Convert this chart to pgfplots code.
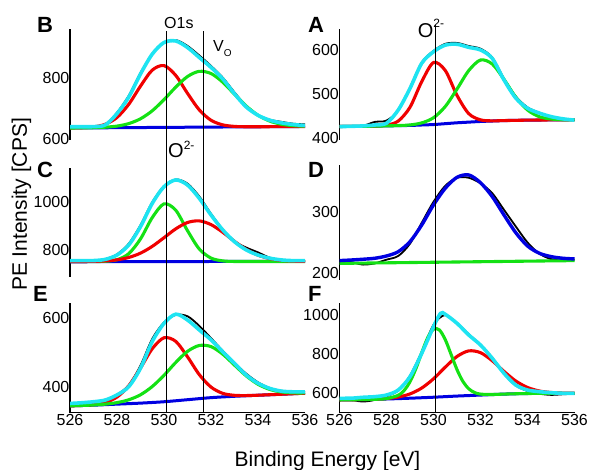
\documentclass[border=0pt]{standalone}
\usepackage{fontspec}
\setmainfont{Liberation Sans}
\usepackage{pgfplots}
\pgfplotsset{compat=1.18}
\definecolor{fitcyan}{RGB}{30,228,242}
\definecolor{pkred}{RGB}{240,0,0}
\definecolor{pkgreen}{RGB}{20,225,20}
\definecolor{bgblue}{RGB}{0,0,225}
\pgfplotsset{
  panel/.style={
    scale only axis, width=235pt, xmin=526, xmax=536,
    axis lines=left,
    axis line style={-, line width=1.1pt},
    major tick length=0pt,
    ticklabel style={font=\fontsize{16}{16}\selectfont},
    yticklabel style={inner sep=0.5pt},
    xticklabel style={inner sep=1.5pt},
    /pgf/number format/assume math mode=true,
    /pgf/number format/1000 sep={},
    no markers, anchor=south west,
  },
  toprow/.style={xtick=\empty, x axis line style={draw=none}},
  bottomrow/.style={xtick={526,528,530,532,534,536}},
  dat/.style={black, line width=1.8pt, smooth},
  fit/.style={fitcyan, line width=3.6pt, smooth},
  rd/.style={pkred, line width=3.1pt, smooth},
  gr/.style={pkgreen, line width=3.1pt, smooth},
  bl/.style={bgblue, line width=3pt, smooth},
}
\begin{document}
\begin{tikzpicture}
\useasboundingbox (0pt,0pt) rectangle (591pt,470pt);

% B
\begin{axis}[panel, toprow, at={(70pt,330pt)}, height=111pt, ymin=597, ymax=958, ytick={600,800}]
\addplot[dat] coordinates {(526,641)(526.5,640)(527,640)(527.5,646)(528,686)(528.5,741)(529,815)(529.5,877)(530,913)(530.5,922)(531,903)(531.5,872)(532,838)(532.5,800)(533,752)(533.5,707)(534,678)(534.5,663)(535,656)(535.5,650)(536,648)};
\addplot[bl] coordinates {(526,636)(531,638.5)(536,641)};
\addplot[rd] coordinates {(526,636.1)(526.5,636.9)(527,639.5)(527.5,648.1)(528,670.2)(528.5,713.1)(529,772.2)(529.5,824.2)(530,839)(530.5,807)(531,748.8)(531.5,695)(532,661.2)(532.5,646.2)(533,641.2)(533.5,640.1)(534,640)(535,640.5)(536,641)};
\addplot[gr] coordinates {(526,636)(526.5,636.4)(527,637)(527.5,638.6)(528,642.2)(528.5,650.3)(529,666)(529.5,692)(530,728.2)(530.5,768.9)(531,803.4)(531.5,820.3)(532,813.2)(532.5,785)(533,745.8)(533.5,707.4)(534,677.5)(534.5,658.4)(535,648.1)(535.5,643.6)(536,641.9)};
\addplot[fit] coordinates {(526,640)(526.5,640)(527,640.5)(527.5,646)(528,682.8)(528.5,736.5)(529,811.8)(529.5,876.3)(530,914)(530.5,919)(531,897.8)(531.5,865.5)(532,833.3)(532.5,795.7)(533,747.3)(533.5,704.3)(534,677.4)(534.5,661.3)(535,652.7)(535.5,647.3)(536,644)};
\coordinate (L1t) at (axis cs:530.1,950);
\coordinate (L2t) at (axis cs:531.7,950);
\end{axis}

% A
\begin{axis}[panel, toprow, at={(339.5pt,330pt)}, height=111pt, ymin=396, ymax=647.6, ytick={400,500,600}]
\addplot[dat] coordinates {(526,425)(526.5,426)(527,428)(527.5,437)(528,440)(528.5,463)(529,515)(529.5,572)(530,598)(530.5,614)(531,616)(531.5,609)(532,603)(532.5,583)(533,535)(533.5,495)(534,470)(534.5,458)(535,449)(535.5,444)(536,441)};
\addplot[bl] coordinates {(526,427)(527,427)(528,428)(529,429)(529.5,430)(530,431)(530.5,433)(531,435)(531.5,436.5)(532,438)(532.5,439)(533,440)(534,441)(535,441.5)(536,442)};
\addplot[rd] coordinates {(526,427)(527,427)(527.5,427.6)(528,429.6)(528.5,438.9)(529,470.3)(529.5,528.4)(530,571.6)(530.5,553.6)(531,497.1)(531.5,455.7)(532,441.6)(532.5,439.4)(533,440)(534,441)(535,441.5)(536,442)};
\addplot[gr] coordinates {(526,427)(527,427)(528,428)(528.5,428.7)(529,430.1)(529.5,434.8)(530,446.4)(530.5,471.9)(531,511.4)(531.5,553.4)(532,577.3)(532.5,568.2)(533,533.4)(533.5,493)(534,464)(534.5,448.8)(535,443.6)(535.5,441.9)(536,442.1)};
\addplot[fit] coordinates {(526,426.3)(526.5,427)(527,427.9)(527.5,430)(528,434)(528.5,464)(529,513)(529.5,570)(530,596)(530.5,611)(531,613)(531.5,606)(532,600)(532.5,581)(533,532)(533.5,491)(534,468)(534.5,457)(535,449)(535.5,444)(536,441)};
\coordinate (R1t) at (axis cs:530.1,657);
\end{axis}

% C
\begin{axis}[panel, toprow, at={(70pt,193pt)}, height=109pt, ymin=688, ymax=1139.5, ytick={800,1000}]
\addplot[dat] coordinates {(526,754)(526.5,752)(527,755)(527.5,762)(528,782)(528.5,826)(529,903)(529.5,998)(530,1064)(530.5,1092)(531,1075)(531.5,1022)(532,950)(532.5,885)(533,835)(533.5,810)(534,790)(534.5,768)(535,757)(535.5,754)(536,754)};
\addplot[bl] coordinates {(526,751)(536,753)};
\addplot[gr] coordinates {(526,752)(527,752.1)(527.5,753.2)(528,759.7)(528.5,784.5)(529,845.7)(529.5,934)(530,991)(530.5,964.6)(531,880)(531.5,804.1)(532,766.4)(532.5,754.7)(533,752.3)(534,752)(536,752)};
\addplot[rd] coordinates {(526,752)(526.5,752.2)(527,752.8)(527.5,754.6)(528,759.1)(528.5,768.8)(529,786.8)(529.5,814.8)(530,850.7)(530.5,887.4)(531,913.7)(531.5,920.5)(532,905.1)(532.5,873.3)(533,835.7)(533.5,802.4)(534,778.4)(534.5,764.1)(535,756.8)(535.5,753.7)(536,752.5)};
\addplot[fit] coordinates {(526,755.7)(526.5,755.7)(527,756)(527.5,761)(528,779)(528.5,820.7)(529,896.6)(529.5,993)(530,1062)(530.5,1090)(531,1069)(531.5,1014)(532,945)(532.5,883)(533,834)(533.5,800)(534,779)(534.5,766)(535,758.6)(535.5,755.7)(536,755.7)};
\end{axis}

% D
\begin{axis}[panel, toprow, at={(339.5pt,190pt)}, height=115pt, ymin=189, ymax=375.8, ytick={200,300}]
\addplot[dat] coordinates {(526,221)(526.5,218)(527,214)(527.5,216)(528,222)(528.5,228)(529,248)(529.5,282)(530,316)(530.5,342)(531,355)(531.5,355)(532,346)(532.5,330)(533,303)(533.5,276)(534,250)(534.5,232)(535,223)(535.5,222)(536,222)};
\addplot[gr] coordinates {(526,216)(536,220.5)};
\addplot[bl, line width=3.4pt] coordinates {(526,220.5)(526.5,221.5)(527,222.7)(527.5,224.3)(528,228)(528.5,235)(529,251.3)(529.5,278.4)(530,310.9)(530.5,338)(531,355.8)(531.5,359.6)(532,347)(532.5,324.4)(533,294.6)(533.5,265.9)(534,244.3)(534.5,232.5)(535,227)(535.5,224.3)(536,223.2)};
\end{axis}

% E
\begin{axis}[panel, bottomrow, at={(70pt,57.3pt)}, height=110pt, ymin=324, ymax=645.6, ytick={400,600}]
\addplot[dat] coordinates {(526,349)(526.5,352)(527,355)(527.5,362)(528,377)(528.5,404)(529,462)(529.5,540)(530,588)(530.5,610)(531,606)(531.5,578)(532,542)(532.5,505)(533,470)(533.5,438)(534,413)(534.5,396)(535,388)(535.5,386)(536,386)};
\addplot[bl] coordinates {(526,344)(527,346)(528,349)(529,352)(530,356)(531,362)(532,368)(533,372)(534,375)(535,378)(536,381)};
\addplot[rd] coordinates {(526,344)(526.5,345.3)(527,347.5)(527.5,353.9)(528,369.7)(528.5,402.8)(529,454.6)(529.5,511)(530,543.1)(530.5,532.5)(531,487.4)(531.5,435.5)(532,398.9)(532.5,380.5)(533,374.8)(533.5,374.1)(534,375.1)(535,378)(536,381)};
\addplot[gr] coordinates {(526,344)(526.5,345.1)(527,346.5)(527.5,349)(528,353.5)(528.5,361.7)(529,376.4)(529.5,400.5)(530,433.3)(530.5,470.9)(531,503.3)(531.5,520.5)(532,517.3)(532.5,495)(533,463.1)(533.5,431.5)(534,407.1)(534.5,392)(535,384.6)(535.5,381.9)(536,381.8)};
\addplot[fit] coordinates {(526,351)(526.5,353)(527,356)(527.5,361)(528,376)(528.5,400)(529,454)(529.5,532)(530,585)(530.5,612)(531,595)(531.5,566)(532,537)(532.5,502)(533,468)(533.5,434)(534,410)(534.5,395)(535,387)(535.5,385)(536,385)};
\coordinate (L1b) at (axis cs:530.1,324);
\coordinate (L2b) at (axis cs:531.7,324);
\end{axis}

% F
\begin{axis}[panel, bottomrow, at={(339.5pt,57.3pt)}, height=110pt, ymin=501, ymax=1062.8, ytick={600,800,1000}]
\addplot[dat] coordinates {(526,572)(526.5,566)(527,558)(527.5,566)(528,585)(528.5,614)(529,690)(529.5,812)(530,950)(530.5,1000)(531,958)(531.5,902)(532,848)(532.5,782)(533,700)(533.5,640)(534,612)(534.5,598)(535,592)(535.5,595)(536,598)};
\addplot[bl] coordinates {(526,566)(527,568)(528,571)(529,575)(530,580)(531,586)(532,591)(533,596)(534,599)(535,600)(536,600)};
\addplot[rd] coordinates {(526,566)(526.5,567)(527,568.1)(527.5,570.2)(528,573.5)(528.5,581.1)(529,596.9)(529.5,627)(530,674.1)(530.5,733.5)(531,788.1)(531.5,816.7)(532,807.6)(532.5,766.4)(533,711.9)(533.5,662.9)(534,629.9)(534.5,611.9)(535,604.1)(535.5,601.2)(536,600.3)};
\addplot[gr] coordinates {(526,566)(527,568)(527.5,569.5)(528,572.9)(528.5,590)(528.75,614.7)(529,659.1)(529.25,725.8)(529.5,807.4)(529.75,883.3)(530,927.8)(530.25,923.8)(530.5,874.3)(530.75,798)(531,721)(531.25,660.8)(531.5,623.1)(531.75,603.8)(532,595.9)(532.5,593.9)(533,596)(534,599)(535,600)(536,600)};
\addplot[fit] coordinates {(526,574.5)(526.5,575)(527,579.6)(527.5,582.9)(528,591.3)(528.5,616.9)(529,684.8)(529.5,804.3)(530,940.3)(530.3,1008.6)(530.5,1003.5)(531,957.5)(531.5,897.8)(532,846.7)(532.5,778.8)(533,702.1)(533.5,642.4)(534,616.9)(534.5,608.4)(535,603.3)(535.5,600)(536,600)};
\coordinate (R1b) at (axis cs:530.1,501);
\end{axis}

% reference lines
\draw[line width=1pt] (L1t) -- (L1b);
\draw[line width=1pt] (L2t) -- (L2b);
\draw[line width=1pt] (R1t) -- (R1b);

% panel letters
\begin{scope}[every node/.style={anchor=base west, inner sep=0pt, font=\fontsize{22}{22}\selectfont\bfseries}]
\node at (37pt,437pt) {B};
\node at (308pt,437pt) {A};
\node at (37pt,292pt) {C};
\node at (308pt,292.7pt) {D};
\node at (33pt,168.3pt) {E};
\node at (308pt,168.3pt) {F};
\end{scope}

% annotations
\node[anchor=base west, inner sep=0pt, font=\fontsize{16}{16}\selectfont] at (164pt,441.5pt) {O1s};
\node[anchor=base west, inner sep=0pt, font=\fontsize{16}{16}\selectfont] at (213pt,418pt) {V\raisebox{-5pt}{\fontsize{10}{10}\selectfont O}};
\node[anchor=base west, inner sep=0pt, font=\fontsize{20}{20}\selectfont] at (168pt,312pt) {O\raisebox{8pt}{\fontsize{12}{12}\selectfont 2-}};
\node[anchor=base west, inner sep=0pt, font=\fontsize{20}{20}\selectfont] at (417.7pt,432pt) {O\raisebox{10pt}{\fontsize{12}{12}\selectfont 2-}};

% axis titles
\node[rotate=90, anchor=base, inner sep=0pt, font=\fontsize{21}{21}\selectfont] at (27pt,265.5pt) {PE Intensity [CPS]};
\node[anchor=base, inner sep=0pt, font=\fontsize{21}{21}\selectfont] at (327.5pt,3.3pt) {Binding Energy [eV]};
\end{tikzpicture}
\end{document}
